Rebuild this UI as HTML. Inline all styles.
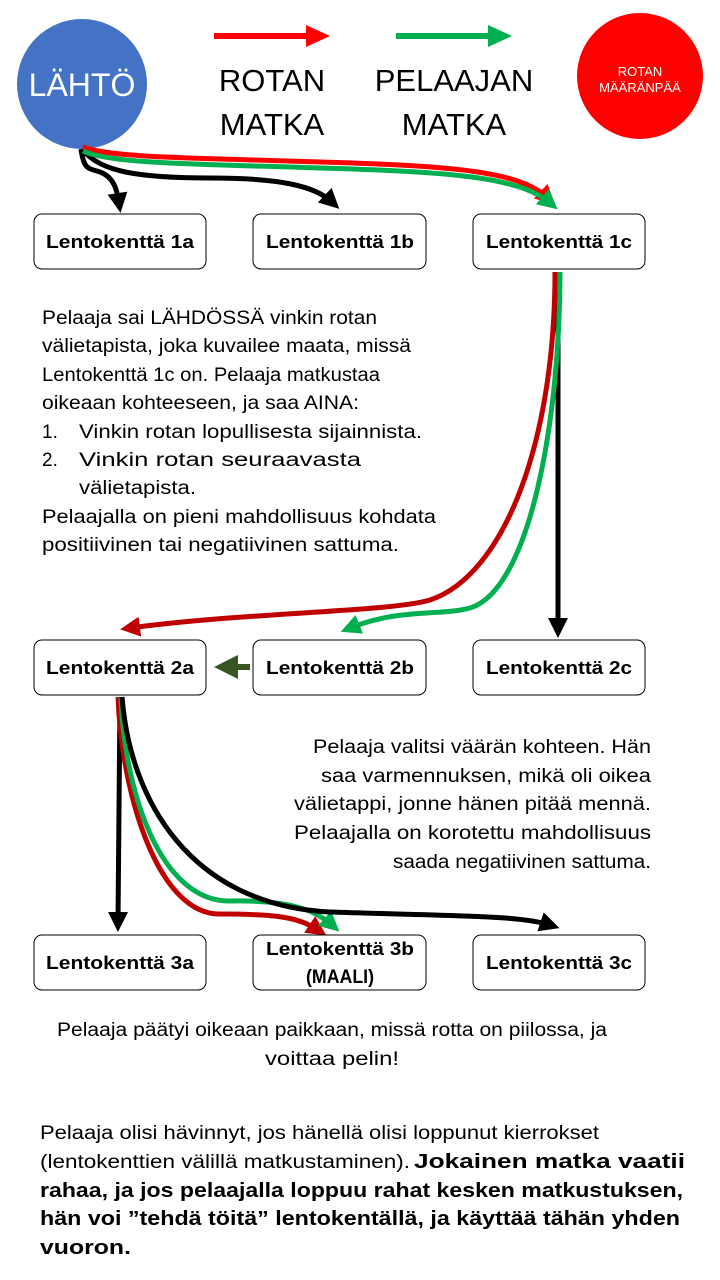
<!DOCTYPE html>
<html><head><meta charset="utf-8"><style>
html,body{margin:0;padding:0;background:#fff;}
svg{display:block;}
text{font-family:"Liberation Sans",sans-serif;fill:#000;}
.b{font-weight:bold;}
</style></head><body>
<svg width="720" height="1280" viewBox="0 0 720 1280" xmlns="http://www.w3.org/2000/svg">
<defs>
<marker id="mk" markerWidth="4" markerHeight="4" refX="2" refY="2" orient="auto" markerUnits="strokeWidth"><path d="M0,0 L4,2 L0,4 Z" fill="#000"/></marker>
<marker id="mr" markerWidth="4" markerHeight="4" refX="2" refY="2" orient="auto" markerUnits="strokeWidth"><path d="M0,0 L4,2 L0,4 Z" fill="#c00000"/></marker>
<marker id="mr2" markerWidth="4" markerHeight="4" refX="2" refY="2" orient="auto" markerUnits="strokeWidth"><path d="M0,0 L4,2 L0,4 Z" fill="#ff0000"/></marker>
<marker id="mg" markerWidth="4" markerHeight="4" refX="2" refY="2" orient="auto" markerUnits="strokeWidth"><path d="M0,0 L4,2 L0,4 Z" fill="#00b050"/></marker>
<marker id="md" markerWidth="4" markerHeight="4" refX="2" refY="2" orient="auto" markerUnits="strokeWidth"><path d="M0,0 L4,2 L0,4 Z" fill="#375623"/></marker>
</defs>

<circle cx="82" cy="84" r="65" fill="#4472c4"/>
<text x="82" y="96" font-size="32" text-anchor="middle" style="fill:#fff">LÄHTÖ</text>
<circle cx="640" cy="76" r="63" fill="#ff0000"/>
<text x="640" y="76" font-size="13" text-anchor="middle" style="fill:#fff">ROTAN</text>
<text x="640" y="92" font-size="13" text-anchor="middle" style="fill:#fff">MÄÄRÄNPÄÄ</text>
<line x1="214" y1="36" x2="308" y2="36" stroke="#ff0000" stroke-width="6"/>
<path d="M306,25 L330,36 L306,47 Z" fill="#ff0000"/>
<line x1="396" y1="36" x2="490" y2="36" stroke="#00b050" stroke-width="6"/>
<path d="M488,25 L512,36 L488,47 Z" fill="#00b050"/>
<text x="272" y="91" font-size="31" text-anchor="middle">ROTAN</text>
<text x="272" y="135" font-size="31" text-anchor="middle">MATKA</text>
<text x="454" y="91" font-size="31" text-anchor="middle">PELAAJAN</text>
<text x="454" y="135" font-size="31" text-anchor="middle">MATKA</text>

<g fill="none" stroke-width="5">
<path d="M81,149 C84,170 88,168 100,172 C114,177 117,190 119,203" stroke="#000" marker-end="url(#mk)"/>
<path d="M83,150 C100,172 140,178 210,178 C280,178 315,186 332,202" stroke="#000" marker-end="url(#mk)"/>
<path d="M83,147 C110,158 200,158 320,162 C460,166 520,172 548,198" stroke="#ff0000" marker-end="url(#mr2)"/>
<path d="M83,151 C110,164 200,164 320,168 C460,172 520,178 550,203" stroke="#00b050" marker-end="url(#mg)"/>

<path d="M558,272 L558,628" stroke="#000" marker-end="url(#mk)"/>
<path d="M555,272 C555,440 505,575 430,600 C390,612 250,612 130,628" stroke="#c00000" marker-end="url(#mr)"/>
<path d="M560,272 C560,420 530,590 470,608 C440,616 400,608 350,628" stroke="#00b050" marker-end="url(#mg)"/>
<path d="M250,667 L226,667" stroke="#375623" stroke-width="6" marker-end="url(#md)"/>

<path d="M120,697 L118,922" stroke="#000" marker-end="url(#mk)"/>
<path d="M118,697 C122,800 160,915 220,914 C280,914 300,918 318,930" stroke="#c00000" marker-end="url(#mr)"/>
<path d="M121,697 C124,790 160,902 230,901 C290,900 315,910 332,925" stroke="#00b050" marker-end="url(#mg)"/>
<path d="M122,697 C130,800 190,905 330,912 C450,916 520,915 550,925" stroke="#000" marker-end="url(#mk)"/>
</g>

<g fill="#fff" stroke="#000" stroke-width="1">
<rect x="34" y="214" width="172" height="55" rx="8"/>
<rect x="253" y="214" width="173" height="55" rx="8"/>
<rect x="473" y="214" width="172" height="55" rx="8"/>
<rect x="34" y="640" width="172" height="55" rx="8"/>
<rect x="253" y="640" width="173" height="55" rx="8"/>
<rect x="473" y="640" width="172" height="55" rx="8"/>
<rect x="34" y="935" width="172" height="55" rx="8"/>
<rect x="253" y="935" width="173" height="55" rx="8"/>
<rect x="473" y="935" width="172" height="55" rx="8"/>
</g>
<g class="b" font-size="18" text-anchor="middle">
<text x="120" y="248" textLength="148" lengthAdjust="spacingAndGlyphs">Lentokenttä 1a</text>
<text x="340" y="248" textLength="148" lengthAdjust="spacingAndGlyphs">Lentokenttä 1b</text>
<text x="559" y="248" textLength="146" lengthAdjust="spacingAndGlyphs">Lentokenttä 1c</text>
<text x="120" y="674" textLength="148" lengthAdjust="spacingAndGlyphs">Lentokenttä 2a</text>
<text x="340" y="674" textLength="148" lengthAdjust="spacingAndGlyphs">Lentokenttä 2b</text>
<text x="559" y="674" textLength="146" lengthAdjust="spacingAndGlyphs">Lentokenttä 2c</text>
<text x="120" y="969" textLength="148" lengthAdjust="spacingAndGlyphs">Lentokenttä 3a</text>
<text x="340" y="955" textLength="148" lengthAdjust="spacingAndGlyphs">Lentokenttä 3b</text>
<text x="340" y="983" font-size="19" textLength="68" lengthAdjust="spacingAndGlyphs">(MAALI)</text>
<text x="559" y="969" textLength="146" lengthAdjust="spacingAndGlyphs">Lentokenttä 3c</text>
</g>

<g font-size="19">
<text x="42" y="324" textLength="335" lengthAdjust="spacingAndGlyphs">Pelaaja sai LÄHDÖSSÄ vinkin rotan</text>
<text x="42" y="352" textLength="369" lengthAdjust="spacingAndGlyphs">välietapista, joka kuvailee maata, missä</text>
<text x="42" y="381" textLength="338" lengthAdjust="spacingAndGlyphs">Lentokenttä 1c on. Pelaaja matkustaa</text>
<text x="42" y="409" textLength="317" lengthAdjust="spacingAndGlyphs">oikeaan kohteeseen, ja saa AINA:</text>
<text x="42" y="438">1.</text>
<text x="79" y="438" textLength="343" lengthAdjust="spacingAndGlyphs">Vinkin rotan lopullisesta sijainnista.</text>
<text x="42" y="466">2.</text>
<text x="79" y="466" textLength="282" lengthAdjust="spacingAndGlyphs">Vinkin rotan seuraavasta</text>
<text x="79" y="494" textLength="117" lengthAdjust="spacingAndGlyphs">välietapista.</text>
<text x="42" y="523" textLength="394" lengthAdjust="spacingAndGlyphs">Pelaajalla on pieni mahdollisuus kohdata</text>
<text x="42" y="551" textLength="357" lengthAdjust="spacingAndGlyphs">positiivinen tai negatiivinen sattuma.</text>
</g>

<g font-size="19" text-anchor="end">
<text x="651" y="753" textLength="338" lengthAdjust="spacingAndGlyphs">Pelaaja valitsi väärän kohteen. Hän</text>
<text x="651" y="782" textLength="330" lengthAdjust="spacingAndGlyphs">saa varmennuksen, mikä oli oikea</text>
<text x="651" y="810" textLength="357" lengthAdjust="spacingAndGlyphs">välietappi, jonne hänen pitää mennä.</text>
<text x="651" y="839" textLength="357" lengthAdjust="spacingAndGlyphs">Pelaajalla on korotettu mahdollisuus</text>
<text x="651" y="868" textLength="258" lengthAdjust="spacingAndGlyphs">saada negatiivinen sattuma.</text>
</g>

<g font-size="19" text-anchor="middle">
<text x="332" y="1036" textLength="550" lengthAdjust="spacingAndGlyphs">Pelaaja päätyi oikeaan paikkaan, missä rotta on piilossa, ja</text>
<text x="332" y="1065" textLength="134" lengthAdjust="spacingAndGlyphs">voittaa pelin!</text>
</g>

<g font-size="19">
<text x="40" y="1139" textLength="559" lengthAdjust="spacingAndGlyphs">Pelaaja olisi hävinnyt, jos hänellä olisi loppunut kierrokset</text>
<text x="40" y="1168" textLength="370" lengthAdjust="spacingAndGlyphs">(lentokenttien välillä matkustaminen).</text>
<text x="414" y="1168" class="b" font-size="20" textLength="271" lengthAdjust="spacingAndGlyphs">Jokainen matka vaatii</text>
<text x="40" y="1197" class="b" font-size="20" textLength="643" lengthAdjust="spacingAndGlyphs">rahaa, ja jos pelaajalla loppuu rahat kesken matkustuksen,</text>
<text x="40" y="1225" class="b" font-size="20" textLength="640" lengthAdjust="spacingAndGlyphs">hän voi ”tehdä töitä” lentokentällä, ja käyttää tähän yhden</text>
<text x="40" y="1254" class="b" font-size="20" textLength="91" lengthAdjust="spacingAndGlyphs">vuoron.</text>
</g>
</svg>
</body></html>
